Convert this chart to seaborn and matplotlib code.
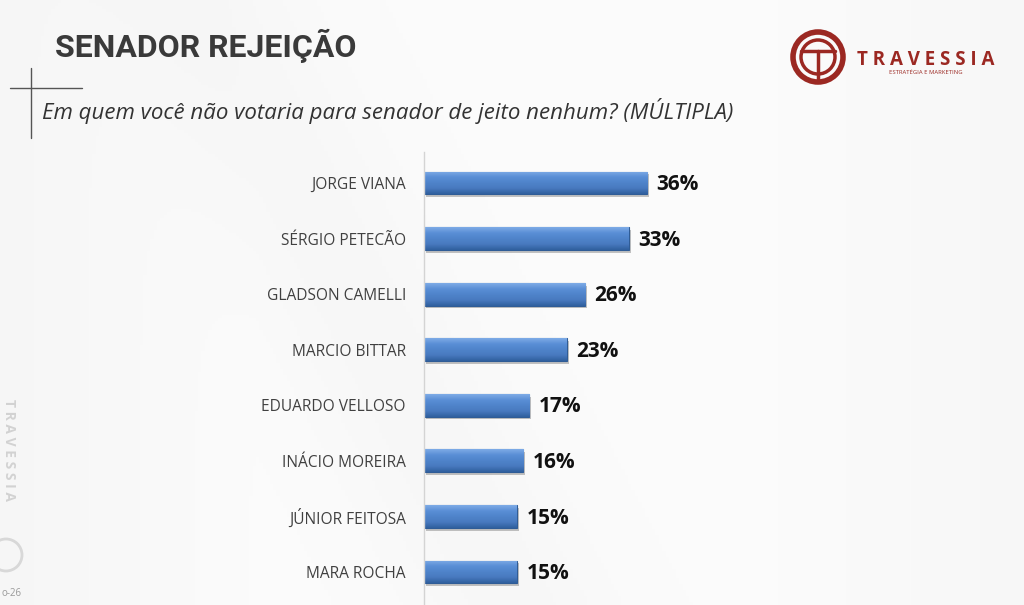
import numpy as np
import pandas as pd
import matplotlib
matplotlib.use("Agg")
import matplotlib.pyplot as plt
import matplotlib.patheffects as pe
from matplotlib import font_manager as fm
from matplotlib.patches import Circle
import seaborn as sns

# ---------------- data ----------------
candidates = ["JORGE VIANA", "SÉRGIO PETECÃO", "GLADSON CAMELLI", "MARCIO BITTAR",
              "EDUARDO VELLOSO", "INÁCIO MOREIRA", "JÚNIOR FEITOSA", "MARA ROCHA"]
rejection = [36, 33, 26, 23, 17, 16, 15, 15]
value_labels = [f"{v}%" for v in rejection]

title_text = "SENADOR REJEIÇÃO"
subtitle_text = "Em quem você não votaria para senador de jeito nenhum? (MÚLTIPLA)"

df = pd.DataFrame({"candidate": candidates, "value": rejection})

sns.set_theme(style="white")
avail = {f.name for f in fm.fontManager.ttflist}
base_font = "Open Sans" if "Open Sans" in avail else "DejaVu Sans"
title_font = "Roboto" if "Roboto" in avail else base_font
plt.rcParams["font.family"] = [base_font, "DejaVu Sans"]

W, H = 1024, 605
fig = plt.figure(figsize=(W / 100, H / 100), dpi=100)

# background
bg = fig.add_axes([0, 0, 1, 1], zorder=0)
yy, xx = np.mgrid[0:1:200j, 0:1:300j]
shade = 0.985 - 0.03 * np.clip((xx - 0.75) * 2, 0, 1) - 0.025 * np.clip((0.25 - xx) * 3, 0, 1) \
        - 0.015 * np.exp(-((xx - 0.2 - 0.3 * yy) ** 2) / 0.01)
bg.imshow(np.dstack([shade, shade, shade]), extent=(0, 1, 0, 1), aspect="auto", origin="upper")
bg.set_axis_off()

# chart axes
ax = fig.add_axes([424 / W, 0, 372 / W, (H - 152) / H], zorder=2)
ax.patch.set_alpha(0)
sns.barplot(data=df, x="value", y="candidate", orient="h", ax=ax,
            color="#4a7fc6", width=0.41, saturation=1, edgecolor="#2f5c96", linewidth=0.8)

# gradient fill and shadow on each bar
cmap = matplotlib.colors.LinearSegmentedColormap.from_list(
    "bar", ["#7eabe6", "#5a8fd6", "#4f84ca", "#4879bf", "#30609e"])
grad = np.linspace(0, 1, 64).reshape(-1, 1)
for p in ax.patches:
    x0, y0 = p.get_x(), p.get_y()
    w, h = p.get_width(), p.get_height()
    p.set_path_effects([pe.SimplePatchShadow(offset=(1.5, -2), alpha=0.35, shadow_rgbFace="#555555"),
                        pe.Normal()])
    im = ax.imshow(grad, cmap=cmap, extent=(x0, x0 + w, y0 + h, y0), aspect="auto",
                   origin="upper", zorder=p.get_zorder() + 0.1)
    im.set_clip_path(p)

ax.set_xlim(0, 60)
ax.set_ylim(7.594, -0.558)
ax.set_xlabel("")
ax.set_ylabel("")
ax.set_xticks([])
for s in ["top", "right", "bottom"]:
    ax.spines[s].set_visible(False)
ax.spines["left"].set_color("#d4d4d4")
ax.spines["left"].set_linewidth(1)
ax.tick_params(axis="y", length=0, pad=13, labelsize=11.2, labelcolor="#404040")

for i, (v, lab) in enumerate(zip(rejection, value_labels)):
    ax.text(v + 1.5, i + 0.03, lab, va="center", ha="left", fontsize=15, fontweight="bold",
            color="#111111", zorder=5)

# overlay for decorations (pixel coordinates)
ov = fig.add_axes([0, 0, 1, 1], zorder=3)
ov.set_xlim(0, W)
ov.set_ylim(H, 0)
ov.set_axis_off()
ov.patch.set_alpha(0)

ov.text(55, 46, title_text, fontsize=23, fontweight="bold", color="#3a3a3a",
        family=[title_font, "DejaVu Sans"], va="center", ha="left")
ov.text(42, 111, subtitle_text, fontsize=16, style="italic", color="#333333",
        va="center", ha="left")

# crosshair lines
ov.plot([10, 82], [88, 88], color="#555555", lw=1)
ov.plot([31, 31], [68, 138], color="#555555", lw=1)

# logo
red = "#9b2822"
ov.add_patch(Circle((818, 57), 25, fill=False, ec=red, lw=4))
ov.add_patch(Circle((818, 57), 17, fill=False, ec=red, lw=2.5))
ov.plot([801, 835], [51, 51], color=red, lw=2.5)
ov.plot([818, 818], [51, 80], color=red, lw=2.5)
ov.text(926, 60, "T R A V E S S I A", fontsize=13.5, fontweight="bold", color=red,
        ha="center", va="center")
ov.text(926, 72, "ESTRATÉGIA E MARKETING", fontsize=4.2, color=red, ha="center", va="center")

# faint left watermark
ov.text(9, 450, "T R A V E S S I A", fontsize=10, color="#d2d2d2", rotation=270,
        ha="center", va="center", fontweight="bold")
ov.add_patch(Circle((6, 555), 16, fill=False, ec="#d8d8d8", lw=2))
ov.text(1, 594, "o-26", fontsize=7, color="#9a9a9a", ha="left", va="center")

fig.savefig("out.png", dpi=100)
